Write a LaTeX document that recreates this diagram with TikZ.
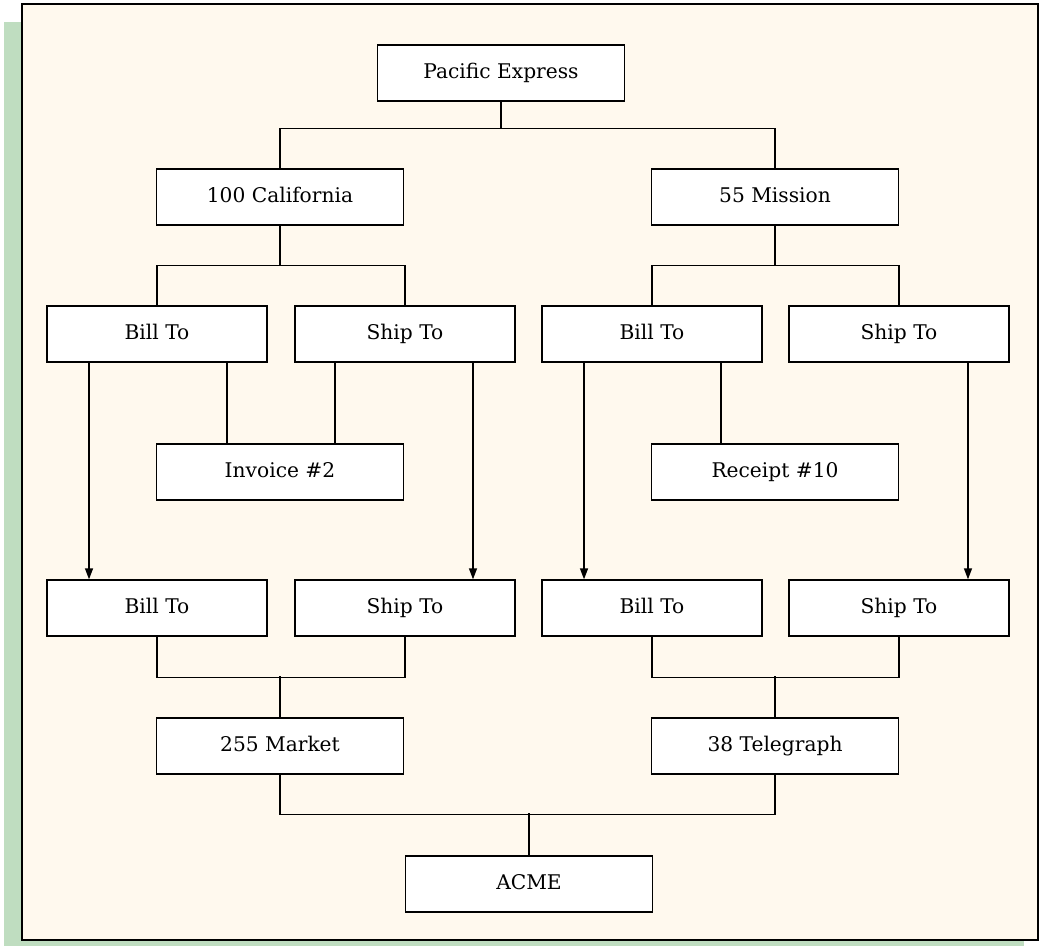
\documentclass[tikz,border=0pt]{standalone}
\usepackage{fontspec}
\setmainfont{DejaVu Serif}
\usetikzlibrary{arrows.meta}
\definecolor{paper}{HTML}{FFF9EE}
\definecolor{mint}{HTML}{BFDDC0}
\begin{document}
\begin{tikzpicture}[x=0.02cm,y=-0.02cm,
  wide/.style={draw,thick,fill=white,minimum width=4.94cm,minimum height=1.12cm,
    text height=1.6ex,text depth=0.3ex,font=\fontsize{11.5}{13}\selectfont},
  half/.style={wide,minimum width=4.4cm},
  link/.style={thick},
  flow/.style={thick,-{Triangle[length=0.22cm,width=0.16cm]}}]
\useasboundingbox (0,0) rectangle (1040,946);
\fill[mint] (4,22) rectangle (1024,946);
\draw[line width=1.3pt,fill=paper] (22,4) rectangle (1038,940);
\node[wide] (pe) at (501,73) {Pacific Express};
\node[wide] (ca) at (280,197) {100 California};
\node[wide] (mi) at (775,197) {55 Mission};
\node[half] (b1) at (157,334) {Bill To};
\node[half] (s1) at (405,334) {Ship To};
\node[half] (b2) at (652,334) {Bill To};
\node[half] (s2) at (899,334) {Ship To};
\node[wide] (inv) at (280,472) {Invoice \#2};
\node[wide] (rec) at (775,472) {Receipt \#10};
\node[half] (b3) at (157,608) {Bill To};
\node[half] (s3) at (405,608) {Ship To};
\node[half] (b4) at (652,608) {Bill To};
\node[half] (s4) at (899,608) {Ship To};
\node[wide] (mk) at (280,746) {255 Market};
\node[wide] (tg) at (775,746) {38 Telegraph};
\node[wide] (acme) at (529,884) {ACME};
% tree from the top
\draw[link] (pe.south) -- ++(0,27) -| (ca.north);
\draw[link] (pe.south) -- ++(0,27) -| (mi.north);
\draw[link] (ca.south) -- ++(0,40) -| (b1.north);
\draw[link] (ca.south) -- ++(0,40) -| (s1.north);
\draw[link] (mi.south) -- ++(0,40) -| (b2.north);
\draw[link] (mi.south) -- ++(0,40) -| (s2.north);
% documents
\draw[link] ([xshift=1.4cm]b1.south) -- ([xshift=1.4cm]b1.south |- inv.north);
\draw[link] ([xshift=-1.4cm]s1.south) -- ([xshift=-1.4cm]s1.south |- inv.north);
\draw[link] ([xshift=1.38cm]b2.south) -- ([xshift=1.38cm]b2.south |- rec.north);
% arrows down
\draw[flow] ([xshift=-1.36cm]b1.south) -- ([xshift=-1.36cm]b3.north);
\draw[flow] ([xshift=1.36cm]s1.south) -- ([xshift=1.36cm]s3.north);
\draw[flow] ([xshift=-1.36cm]b2.south) -- ([xshift=-1.36cm]b4.north);
\draw[flow] ([xshift=1.38cm]s2.south) -- ([xshift=1.38cm]s4.north);
% tree to the bottom
\draw[link] (b3.south) -- ++(0,41) -| (s3.south);
\draw[link] (mk.north) -- ++(0,-41);
\draw[link] (b4.south) -- ++(0,41) -| (s4.south);
\draw[link] (tg.north) -- ++(0,-41);
\draw[link] (mk.south) -- ++(0,40) -| (tg.south);
\draw[link] (acme.north) -- ++(0,-42);
\end{tikzpicture}
\end{document}
